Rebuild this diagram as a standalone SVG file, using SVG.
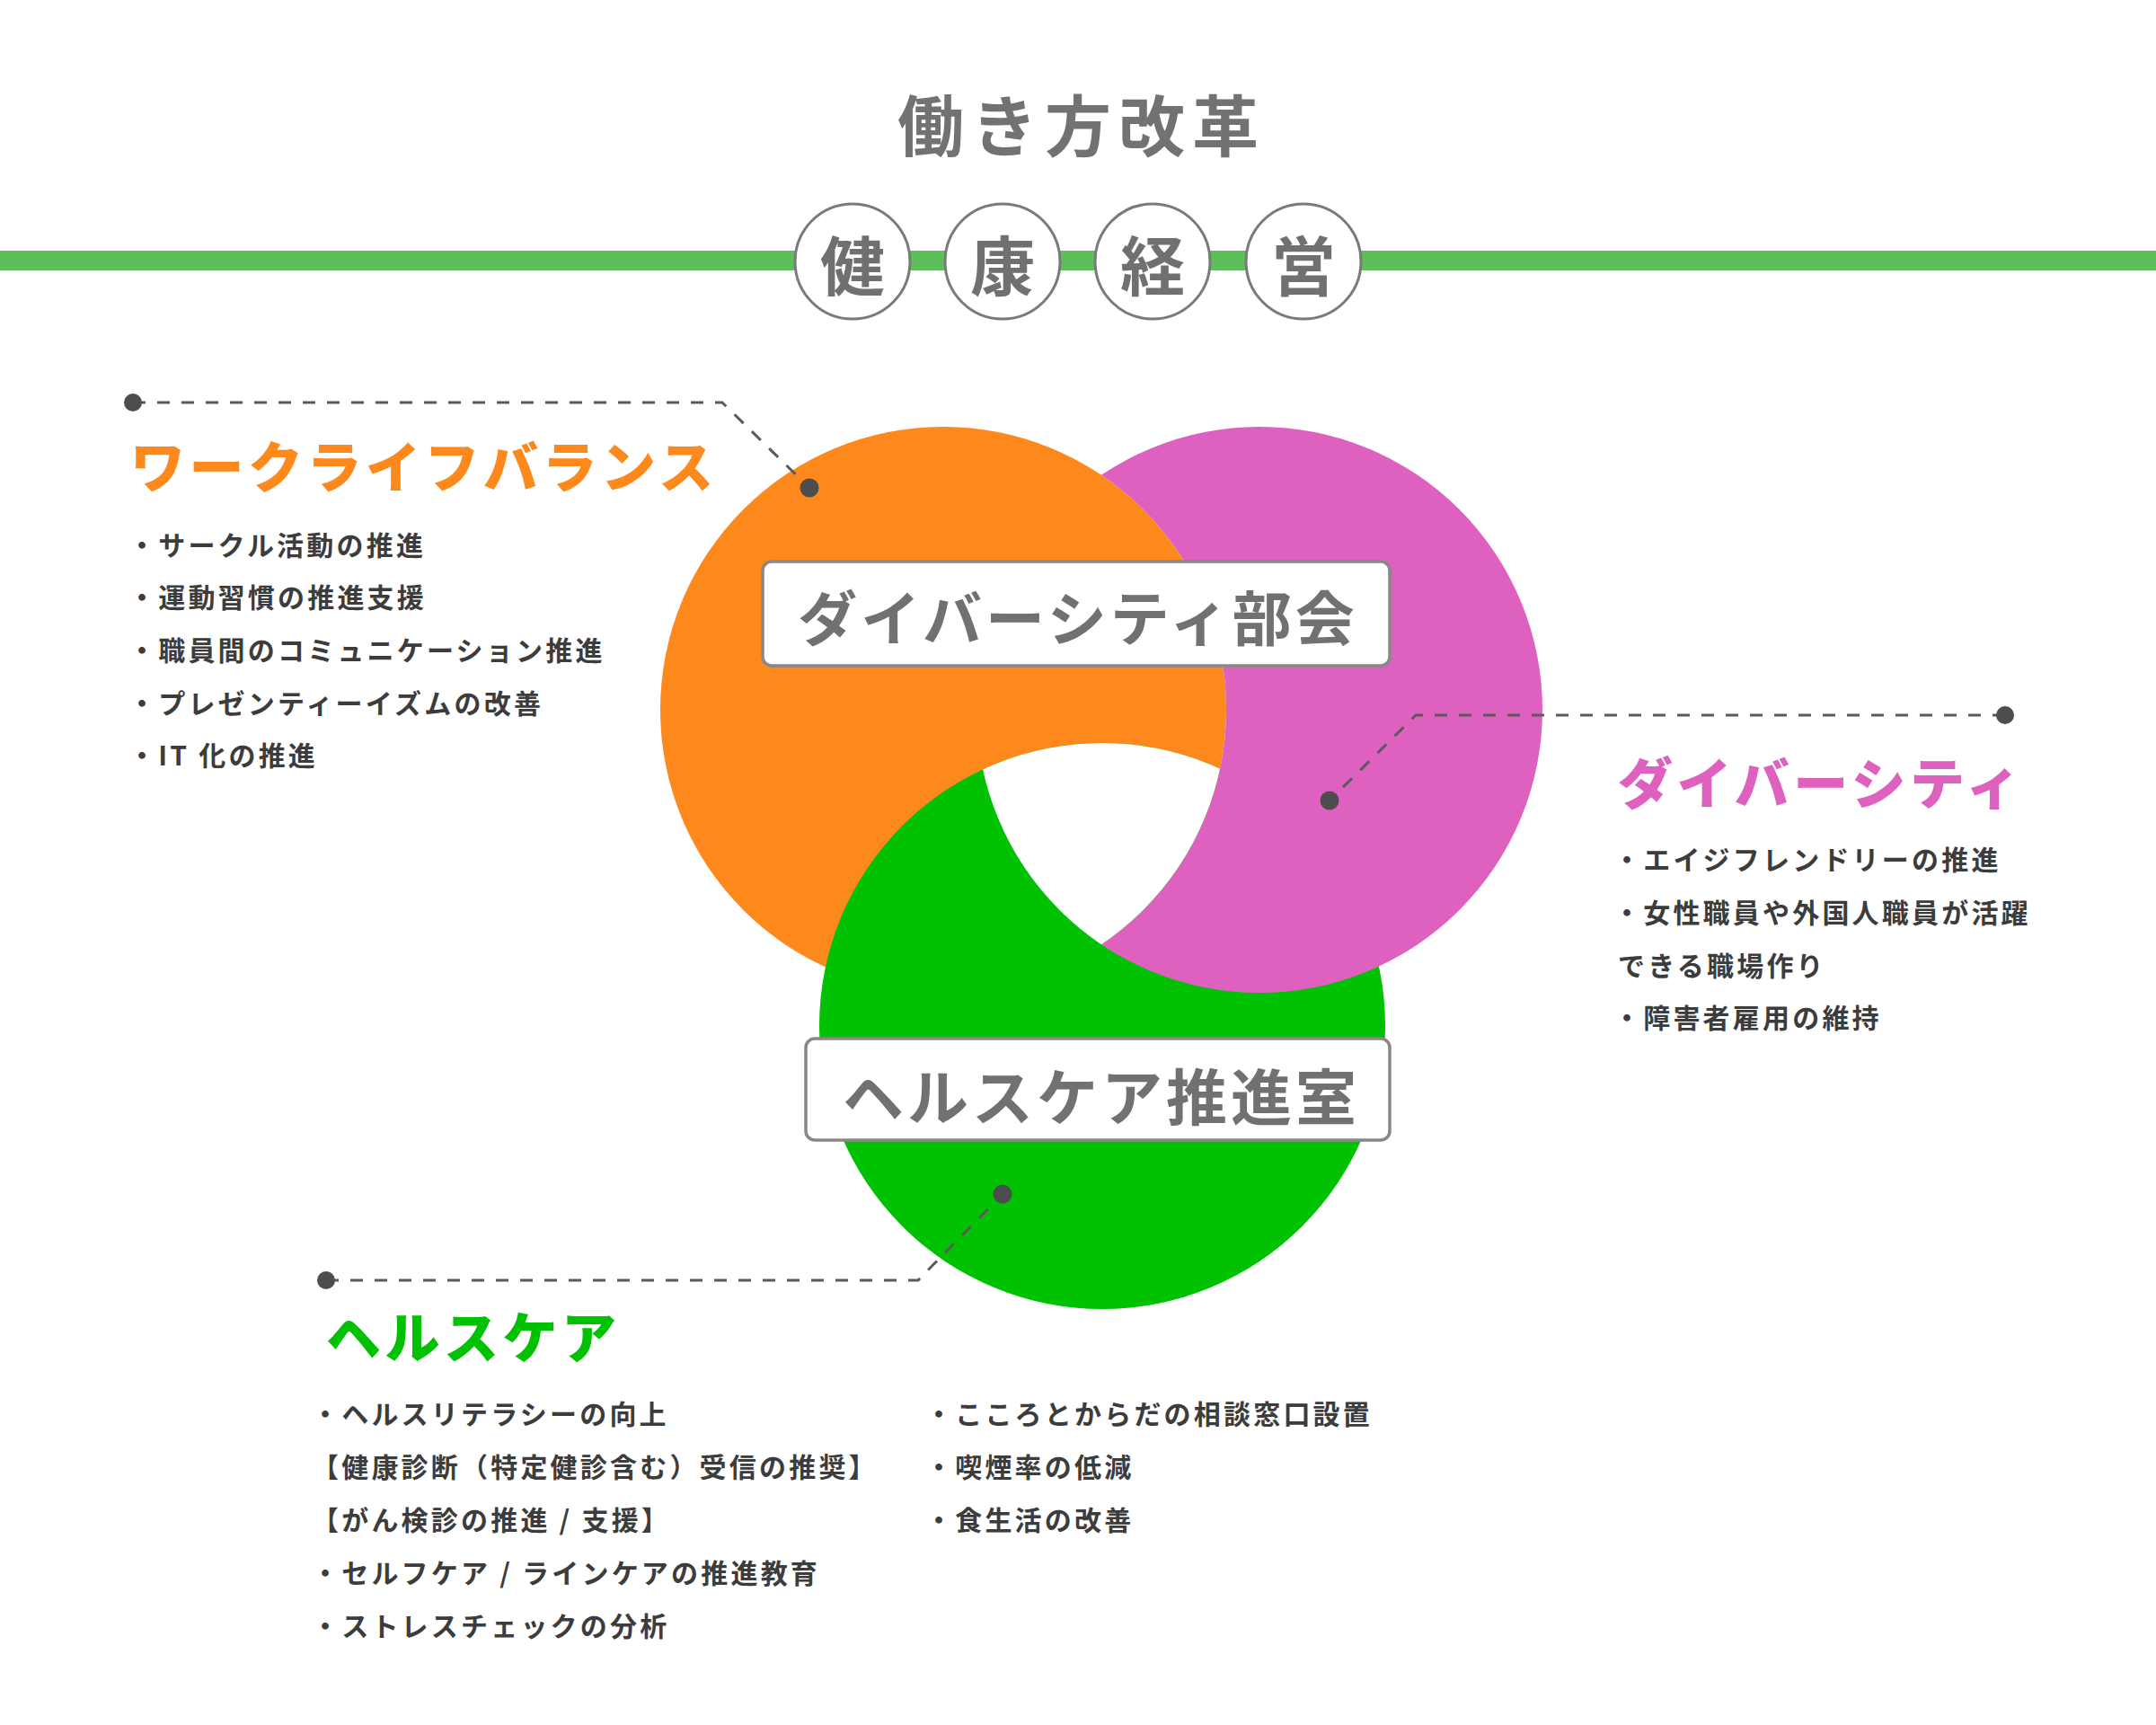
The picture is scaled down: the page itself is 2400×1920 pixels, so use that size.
<svg xmlns="http://www.w3.org/2000/svg" width="2400" height="1920" viewBox="0 0 2400 1920">
  <style>
    .jp { font-family: "Noto Sans CJK JP", "Noto Sans", sans-serif; }
    .title { font-size: 74px; font-weight: 700; fill: #727272; letter-spacing: 8px; }
    .kanji { font-size: 72px; font-weight: 700; fill: #707070; }
    .badge { fill: #ffffff; stroke: #7a7a7a; stroke-width: 3; }
    .box { fill: #ffffff; stroke: #888888; stroke-width: 3.5; }
    .boxtext { font-size: 66px; font-weight: 700; fill: #717171; letter-spacing: 4px; }
    .head { font-size: 61px; font-weight: 900; letter-spacing: 4.5px; }
    .item { font-size: 30px; font-weight: 700; fill: #3c3c3c; letter-spacing: 3.2px; }
    .dash { fill: none; stroke: #5a5a5a; stroke-width: 3; stroke-dasharray: 14 13; }
    .dot { fill: #4d4d4d; }
  </style>
  <defs>
    <clipPath id="clipGreen"><circle cx="1227" cy="1142" r="315"/></clipPath>
    <clipPath id="clipPink"><circle cx="1402" cy="790" r="315"/></clipPath>
    <mask id="outsideOrange" maskUnits="userSpaceOnUse" x="0" y="0" width="2400" height="1920">
      <rect x="0" y="0" width="2400" height="1920" fill="#fff"/>
      <circle cx="1050" cy="790" r="315" fill="#000"/>
    </mask>
  </defs>

  <rect x="0" y="0" width="2400" height="1920" fill="#ffffff"/>

  <!-- header -->
  <g id="title">
    <text class="jp title" x="1204" y="135" text-anchor="middle" dominant-baseline="central">働き方改革</text>
  </g>
  <rect id="header-bar" x="0" y="279" width="2400" height="22" fill="#5cbf5a"/>
  <g id="badge-ken">
    <circle class="badge" cx="949" cy="291" r="64"/>
    <text class="jp kanji" x="949" y="291" text-anchor="middle" dominant-baseline="central">健</text>
  </g>
  <g id="badge-kou">
    <circle class="badge" cx="1116" cy="291" r="64"/>
    <text class="jp kanji" x="1116" y="291" text-anchor="middle" dominant-baseline="central">康</text>
  </g>
  <g id="badge-kei">
    <circle class="badge" cx="1283" cy="291" r="64"/>
    <text class="jp kanji" x="1283" y="291" text-anchor="middle" dominant-baseline="central">経</text>
  </g>
  <g id="badge-ei">
    <circle class="badge" cx="1451" cy="291" r="64"/>
    <text class="jp kanji" x="1451" y="291" text-anchor="middle" dominant-baseline="central">営</text>
  </g>

  <!-- interlocking rings: orange over pink, pink over green, green over orange;
       the common centre is left white -->
  <g id="rings">
    <circle id="ring-orange" cx="1050" cy="790" r="315" fill="#fd891c"/>
    <circle id="ring-green" cx="1227" cy="1142" r="315" fill="#00c102"/>
    <circle id="ring-pink" cx="1402" cy="790" r="315" fill="#de61bf" mask="url(#outsideOrange)"/>
    <g clip-path="url(#clipGreen)">
      <g clip-path="url(#clipPink)">
        <circle cx="1050" cy="790" r="315" fill="#ffffff"/>
      </g>
    </g>
  </g>

  <!-- connectors -->
  <g id="connectors">
    <polyline class="dash" points="148,448 804,448 901,543"/>
    <circle class="dot" cx="148" cy="448" r="10"/>
    <circle class="dot" cx="901" cy="543" r="10.5"/>

    <polyline class="dash" points="2232,796 1576,796 1480,891"/>
    <circle class="dot" cx="2232" cy="796" r="10"/>
    <circle class="dot" cx="1480" cy="891" r="10.5"/>

    <polyline class="dash" points="363,1425 1022,1425 1116,1329"/>
    <circle class="dot" cx="363" cy="1425" r="10"/>
    <circle class="dot" cx="1116" cy="1329" r="10.5"/>
  </g>

  <!-- center labels -->
  <g id="box-diversity">
    <rect class="box" x="849" y="625" width="698" height="116" rx="10"/>
    <text class="jp boxtext" x="1200" y="684" text-anchor="middle" dominant-baseline="central">ダイバーシティ部会</text>
  </g>
  <g id="box-healthcare">
    <rect class="box" x="897" y="1156" width="650" height="113" rx="10"/>
    <text class="jp boxtext" x="1226" y="1217" text-anchor="middle" dominant-baseline="central" style="font-size:68px">ヘルスケア推進室</text>
  </g>

  <!-- work-life balance -->
  <g id="worklife">
    <text class="jp head" x="145" y="516" dominant-baseline="central" fill="#fd891c">ワークライフバランス</text>
    <text class="jp item" x="143" y="605" dominant-baseline="central">・サークル活動の推進</text>
    <text class="jp item" x="143" y="663" dominant-baseline="central">・運動習慣の推進支援</text>
    <text class="jp item" x="143" y="722" dominant-baseline="central">・職員間のコミュニケーション推進</text>
    <text class="jp item" x="143" y="781" dominant-baseline="central">・プレゼンティーイズムの改善</text>
    <text class="jp item" x="143" y="839" dominant-baseline="central">・IT 化の推進</text>
  </g>

  <!-- diversity -->
  <g id="diversity">
    <text class="jp head" x="1801" y="868" dominant-baseline="central" fill="#de61bf">ダイバーシティ</text>
    <text class="jp item" x="1796" y="955" dominant-baseline="central">・エイジフレンドリーの推進</text>
    <text class="jp item" x="1796" y="1014" dominant-baseline="central">・女性職員や外国人職員が活躍</text>
    <text class="jp item" x="1801" y="1073" dominant-baseline="central">できる職場作り</text>
    <text class="jp item" x="1796" y="1131" dominant-baseline="central">・障害者雇用の維持</text>
  </g>

  <!-- healthcare -->
  <g id="healthcare">
    <text class="jp head" x="363" y="1485" dominant-baseline="central" fill="#00c102">ヘルスケア</text>
    <text class="jp item" x="347" y="1572" dominant-baseline="central">・ヘルスリテラシーの向上</text>
    <text class="jp item" x="347" y="1631" dominant-baseline="central">【健康診断（特定健診含む）受信の推奨】</text>
    <text class="jp item" x="347" y="1690" dominant-baseline="central">【がん検診の推進 / 支援】</text>
    <text class="jp item" x="347" y="1749" dominant-baseline="central">・セルフケア / ラインケアの推進教育</text>
    <text class="jp item" x="347" y="1808" dominant-baseline="central">・ストレスチェックの分析</text>
    <text class="jp item" x="1030" y="1572" dominant-baseline="central">・こころとからだの相談窓口設置</text>
    <text class="jp item" x="1030" y="1631" dominant-baseline="central">・喫煙率の低減</text>
    <text class="jp item" x="1030" y="1690" dominant-baseline="central">・食生活の改善</text>
  </g>
</svg>
